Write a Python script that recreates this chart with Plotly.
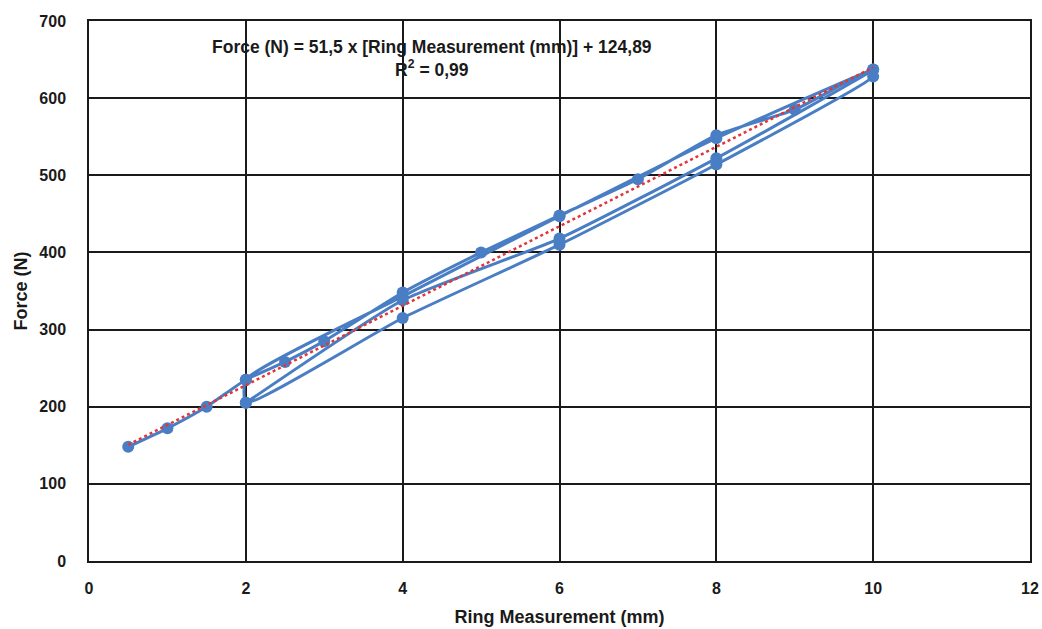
import plotly.graph_objects as go

# Measurement sequence (loading / unloading cycles)
ring_mm = [0.5, 1, 1.5, 2, 2.5, 3, 4, 5, 6, 7, 8, 9, 10,
           10, 8, 6, 4, 2,
           2, 4, 6, 8, 10,
           8, 6, 4, 2]
force_n = [148, 172, 200, 235, 258, 285, 348, 400, 448, 495, 552, 585, 637,
           628, 514, 410, 315, 205,
           235, 343, 447, 548, 637,
           522, 418, 338, 205]

slope = 51.5
intercept = 124.89
trend_x = [0.5, 10]
trend_y = [slope * v + intercept for v in trend_x]

x_ticks = [0, 2, 4, 6, 8, 10, 12]
y_ticks = [0, 100, 200, 300, 400, 500, 600, 700]

FONT = "Liberation Sans, Arial, sans-serif"
BLUE = "#4a7ec4"
INK = "#1a1a1a"

fig = go.Figure()
fig.add_trace(go.Scatter(
    x=ring_mm, y=force_n, mode="lines+markers",
    line=dict(color=BLUE, width=3, shape="spline", smoothing=0.5),
    marker=dict(color=BLUE, size=12),
    showlegend=False, hoverinfo="x+y"))
fig.add_trace(go.Scatter(
    x=trend_x, y=trend_y, mode="lines",
    line=dict(color="#e0363a", width=2.5, dash="dot"),
    showlegend=False))

fig.add_annotation(
    x=4.37, y=651, xref="x", yref="y",
    text="Force (N) = 51,5 x [Ring Measurement (mm)] + 124,89<br>R<sup>2</sup> = 0,99",
    showarrow=False, align="center",
    font=dict(family=FONT, size=17.5, color=INK, weight="bold"))

axis_common = dict(showgrid=True, gridcolor=INK, gridwidth=1.5,
                   showline=True, linecolor=INK, linewidth=1.5, mirror=True,
                   zeroline=False, ticks="", automargin=False,
                   tickfont=dict(family=FONT, size=16, color=INK, weight="bold"))

fig.update_xaxes(range=[0, 12], tickvals=x_ticks, ticklabelstandoff=12,
                 title=dict(text="Ring Measurement (mm)", standoff=14,
                            font=dict(family=FONT, size=18, color=INK, weight="bold")),
                 **axis_common)
fig.update_yaxes(range=[0, 700], tickvals=y_ticks, ticklabelstandoff=18,
                 title=dict(text="Force (N)", standoff=7,
                            font=dict(family=FONT, size=18, color=INK, weight="bold")),
                 **axis_common)

fig.update_layout(width=1042, height=629, autosize=False,
                  margin=dict(l=89, r=12, t=21, b=68),
                  plot_bgcolor="white", paper_bgcolor="white")

fig.write_html("out.html", config={"displayModeBar": False},
               post_script="document.body.style.margin='0';document.body.style.overflow='hidden';")
